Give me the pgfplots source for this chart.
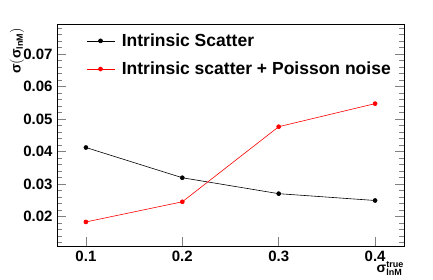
\documentclass[border=0pt]{standalone}
\usepackage{pgfplots}
\pgfplotsset{compat=1.18}
\usepackage{fontspec}
\setmainfont{Liberation Sans}
\begin{document}
\begin{tikzpicture}
\useasboundingbox (0,0) rectangle (433pt,280pt);
\begin{axis}[
  at={(57pt,34pt)}, anchor=south west,
  width=347pt, height=222pt, scale only axis,
  xmin=0.07, xmax=0.43, ymin=0.011, ymax=0.0793,
  scaled y ticks=false, scaled x ticks=false,
  axis line style={line width=0.8pt},
  xtick={0.1,0.2,0.3,0.4},
  xticklabels={0.1,0.2,0.3,0.4},
  xtick pos=bottom,
  ytick={0.02,0.03,0.04,0.05,0.06,0.07},
  yticklabels={0.02,0.03,0.04,0.05,0.06,0.07},
  minor ytick={0.012,0.014,0.016,0.018,0.022,0.024,0.026,0.028,0.032,0.034,0.036,0.038,0.042,0.044,0.046,0.048,0.052,0.054,0.056,0.058,0.062,0.064,0.066,0.068,0.072,0.074,0.076,0.078},
  ytick pos=both,
  xtick style={line width=0.8pt},
  ytick style={line width=0.8pt},
  major tick length=9pt, minor tick length=5pt,
  tick align=inside,
  ticklabel style={font=\fontsize{15}{17}\selectfont\bfseries},
  yticklabel style={xshift=-1pt},
  xticklabel style={inner ysep=0pt, yshift=-4.5pt, text depth=0pt},
  /pgf/number format/assume math mode=true,
  xlabel={$\mbox{σ}^{\mbox{\fontsize{9}{10}\selectfont\bfseries true}}_{\mbox{\fontsize{9}{10}\selectfont\bfseries lnM}}$},
  xlabel style={at={(rel axis cs:1,0)}, anchor=north east, yshift=-15pt, xshift=0pt, inner sep=0pt, font=\fontsize{14}{16}\selectfont\bfseries},
  ylabel={σ$\left(\mbox{σ}_{\mbox{\fontsize{9}{10}\selectfont\bfseries lnM}}\right)$},
  ylabel style={at={(axis description cs:-0.115,1)}, anchor=east, rotate=0, font=\fontsize{14}{16}\selectfont\bfseries},
  legend style={draw=none, fill=none, at={(rel axis cs:0.075,0.975)}, anchor=north west,
    font=\fontsize{17.5}{20}\selectfont\bfseries, row sep=10pt,
    nodes={inner xsep=7pt}},
  legend cell align=left,
  legend image code/.code={\draw[mark repeat=2,mark phase=2,#1] plot coordinates {(0pt,0pt) (14pt,0pt) (28pt,0pt)};},
]
\addplot[black, line width=0.6pt, mark=*, mark size=2pt] coordinates {
  (0.1,0.0413) (0.2,0.0320) (0.3,0.0271) (0.4,0.0250)};
\addlegendentry{Intrinsic Scatter}
\addplot[red, line width=0.6pt, mark=*, mark size=2pt] coordinates {
  (0.1,0.0184) (0.2,0.0246) (0.3,0.0477) (0.4,0.0548)};
\addlegendentry{Intrinsic scatter + Poisson noise}
\end{axis}
\end{tikzpicture}
\end{document}
